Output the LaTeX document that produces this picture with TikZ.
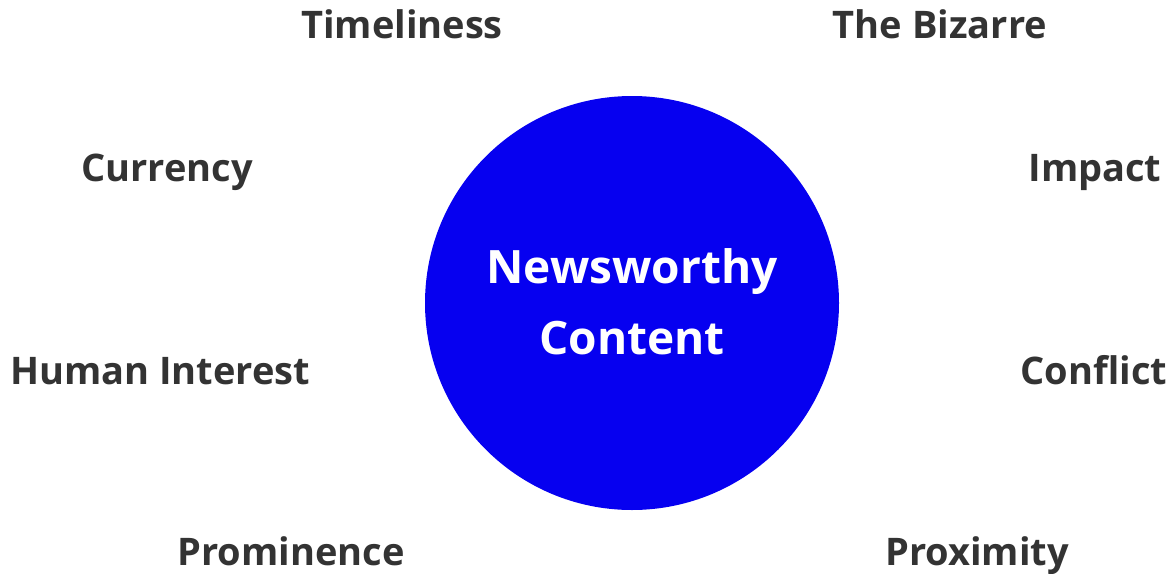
\documentclass[tikz,border=0pt]{standalone}
\usepackage{fontspec}
\setmainfont{Open Sans}
\usepackage{xcolor}
\definecolor{ink}{HTML}{333333}
\definecolor{newsblue}{HTML}{0600F0}
\tikzset{
  core/.style={circle, fill=newsblue, minimum size=414pt, inner sep=0pt},
  coreText/.style={text=white, font=\fontsize{46}{54}\selectfont\bfseries, anchor=base, inner sep=0pt},
  factor/.style={text=ink, font=\fontsize{38}{46}\selectfont\bfseries, anchor=base, inner sep=0pt}
}
\begin{document}
\begin{tikzpicture}[x=1pt, y=-1pt]
  \useasboundingbox (0,0) rectangle (1175,573);

  % centre circle
  \node[core] (news) at (632,303) {};
  \node[coreText] (newsA) at (632,283) {Newsworthy};
  \node[coreText] (newsB) at (632,354) {Content};

  % factors
  \node[factor] (timeliness) at (402,38) {Timeliness};
  \node[factor] (bizarre) at (940,38) {The Bizarre};
  \node[factor] (currency) at (167,181) {Currency};
  \node[factor] (impact) at (1095,181) {Impact};
  \node[factor] (human) at (160,384) {Human Interest};
  \node[factor] (conflict) at (1094,384) {Conflict};
  \node[factor] (prominence) at (291,565) {Prominence};
  \node[factor] (proximity) at (977,565) {Proximity};
\end{tikzpicture}
\end{document}
